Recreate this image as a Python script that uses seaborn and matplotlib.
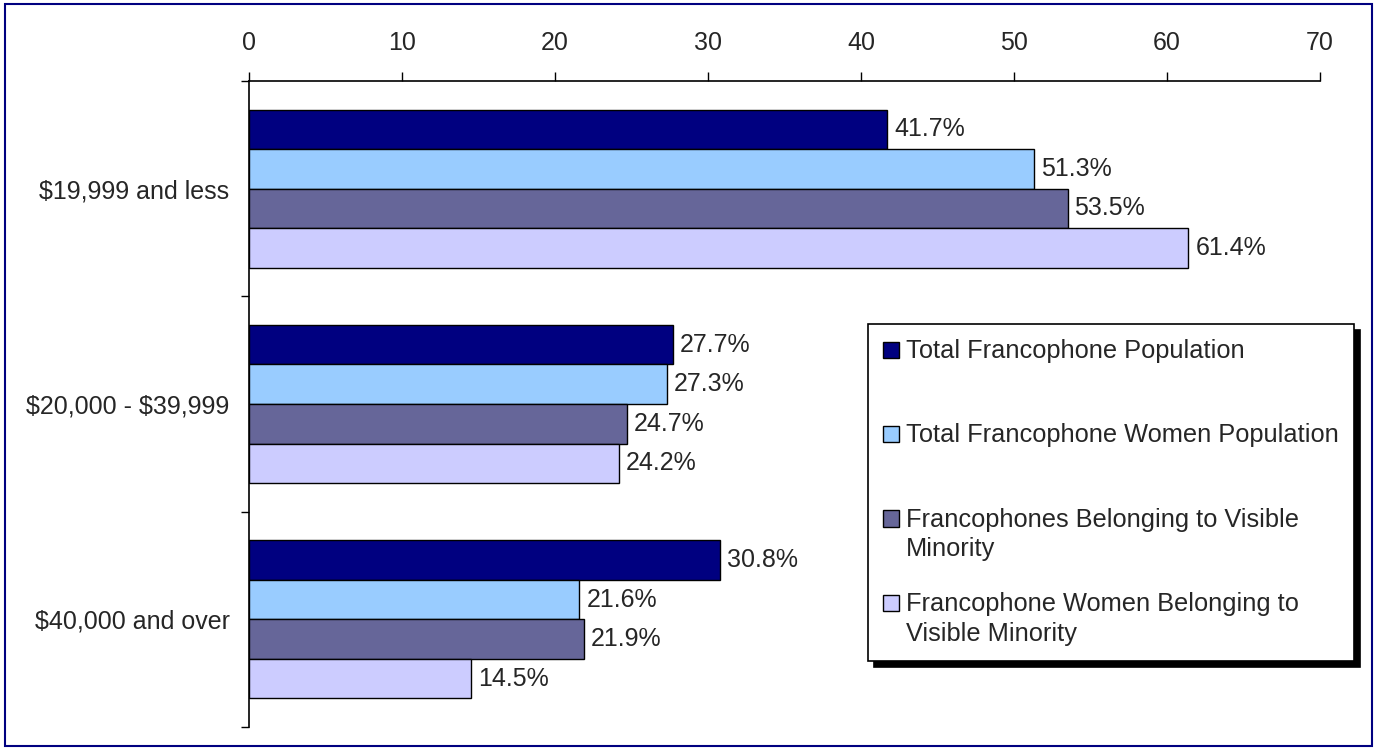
import pandas as pd
import matplotlib
matplotlib.use("Agg")
import matplotlib.pyplot as plt
import matplotlib.patches as mpatches
from matplotlib.legend_handler import HandlerPatch
import seaborn as sns

# data
income_groups = ['$19,999 and less', '$20,000 - $39,999', '$40,000 and over']
series_names = ['Total Francophone Population',
                'Total Francophone Women Population',
                'Francophones Belonging to Visible Minority',
                'Francophone Women Belonging to Visible Minority']
total_pop = [41.7, 27.7, 30.8]
total_women = [51.3, 27.3, 21.6]
visible_minority = [53.5, 24.7, 21.9]
women_visible_minority = [61.4, 24.2, 14.5]
x_ticks = [0, 10, 20, 30, 40, 50, 60, 70]

legend_labels = ['Total Francophone Population\n ',
                 'Total Francophone Women Population\n ',
                 'Francophones Belonging to Visible\nMinority',
                 'Francophone Women Belonging to\nVisible Minority']
colors = ['#000080', '#99CCFF', '#666699', '#CCCCFF']

rows = []
for name, vals in zip(series_names, [total_pop, total_women, visible_minority, women_visible_minority]):
    for grp, v in zip(income_groups, vals):
        rows.append({'income': grp, 'pct': v, 'series': name})
df = pd.DataFrame(rows)

sns.set_style("white")
plt.rcParams['font.family'] = ['Liberation Sans', 'DejaVu Sans']
FS = 18
LEG_FS = 18.3
LINE_SP = 1.3

fig = plt.figure(figsize=(13.77, 7.5), dpi=100)
ax = fig.add_axes([249 / 1377, 23 / 750, (1320 - 249) / 1377, (727 - 81) / 750])

sns.barplot(data=df, x='pct', y='income', hue='series', orient='h',
            hue_order=series_names, order=income_groups,
            palette=colors, saturation=1, width=0.735, gap=0,
            edgecolor='black', linewidth=1, errorbar=None, ax=ax)

for cont in ax.containers:
    ax.bar_label(cont, fmt='%.1f%%', padding=5, fontsize=FS)

ax.set_xlim(0, 70)
ax.set_ylim(2.5, -0.5)
ax.set_xlabel('')
ax.set_ylabel('')

# x axis on top
ax.xaxis.tick_top()
ax.set_xticks(x_ticks)
ax.set_xticklabels([str(t) for t in x_ticks])
ax.tick_params(axis='x', which='major', direction='out', length=6.5, width=1,
               color='black', labelsize=FS, pad=12, top=True, bottom=False)

# category labels, ticks between categories
ax.set_yticks(range(len(income_groups)))
ax.set_yticklabels([g.replace('$', r'\$') for g in income_groups])
ax.set_yticks([-0.5, 0.5, 1.5, 2.5], minor=True)
ax.tick_params(axis='y', which='major', length=0, labelsize=FS, pad=14)
ax.tick_params(axis='y', which='minor', direction='out', length=6, width=1,
               color='black', left=True)

for side in ['right', 'bottom']:
    ax.spines[side].set_visible(False)
for side in ['top', 'left']:
    ax.spines[side].set_color('black')
    ax.spines[side].set_linewidth(1.2)


def top_square(legend, orig_handle, xdescent, ydescent, width, height, fontsize):
    # put the square beside the first line of a two-line label
    return mpatches.Rectangle((-xdescent, -ydescent + 0.5 * LINE_SP * fontsize), width, height)


handles = [mpatches.Patch(facecolor=c, edgecolor='black', linewidth=1) for c in colors]
old = ax.get_legend()
if old is not None:
    old.remove()
leg = ax.legend(handles, legend_labels, loc='upper left',
                bbox_to_anchor=(868 / 1377, 1 - 324 / 750),
                bbox_transform=fig.transFigure, borderaxespad=0,
                fontsize=LEG_FS, frameon=True, fancybox=False, framealpha=1,
                edgecolor='black', handlelength=0.6, handleheight=0.6,
                handletextpad=0.3, borderpad=0.6, labelspacing=1.2,
                shadow={'ox': 4.5, 'oy': -4.5, 'color': 'black', 'alpha': 1},
                handler_map={mpatches.Patch: HandlerPatch(patch_func=top_square)})
leg.get_frame().set_linewidth(1.2)
for t in leg.get_texts():
    t.set_linespacing(LINE_SP)

fig.add_artist(mpatches.Rectangle((5 / 1377, 4 / 750), (1372 - 5) / 1377, (746 - 4) / 750,
                                  transform=fig.transFigure, fill=False,
                                  edgecolor='#000080', linewidth=1.5))

fig.savefig('out.png', dpi=100)
plt.close(fig)
